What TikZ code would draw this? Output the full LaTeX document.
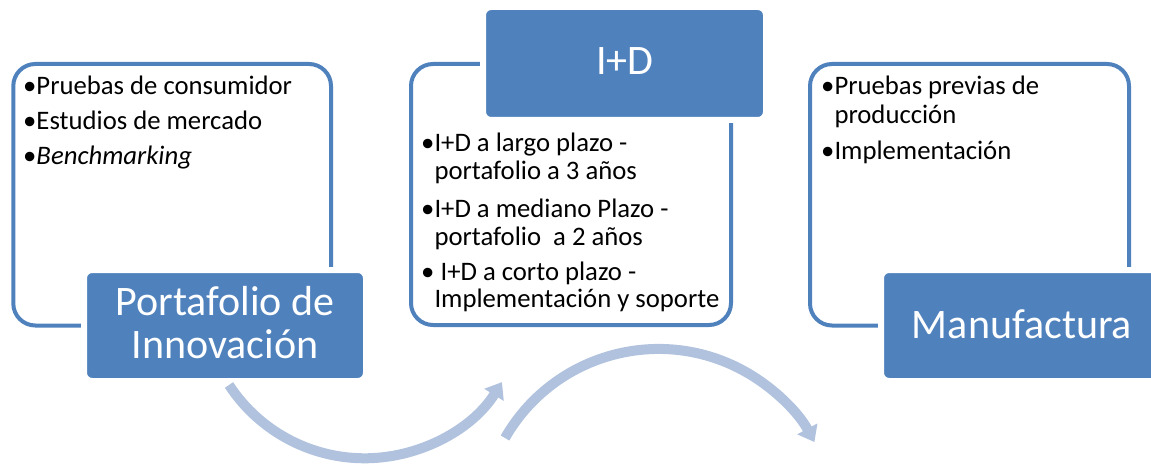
\documentclass[tikz,border=0pt]{standalone}
\usepackage{fontspec}
\setmainfont{Carlito}
\usetikzlibrary{arrows.meta}
\definecolor{boxblue}{HTML}{4F81BD}
\definecolor{arrowblue}{HTML}{B0C2DE}
\tikzset{
  frame/.style={draw=boxblue, line width=4pt, rounded corners=22pt},
  titlebox/.style={fill=boxblue, draw=white, line width=6pt, rounded corners=8pt,
    inner sep=0pt, outer sep=0pt},
  titletext/.style={anchor=base, inner sep=0pt, text=white, font=\fontsize{42}{44}\selectfont},
  item/.style={anchor=base west, inner sep=0pt, font=\fontsize{26.7}{30}\selectfont},
  flow/.style={draw=arrowblue, line width=10pt, -{Triangle[width=22pt,length=15pt]}},
}
\begin{document}
\begin{tikzpicture}[x=1pt,y=-1pt]
\useasboundingbox (0,0) rectangle (1151,465);
\clip (0,0) rectangle (1151,465);
% outline frames
\draw[frame] (13.3,64) rectangle (331,325.5);
\draw[frame] (411,64) rectangle (731,325);
\draw[frame] (810,64) rectangle (1129,325.5);
% title boxes
\node[titlebox, minimum width=282pt, minimum height=111pt] (pbox) at (225,325.5) {};
\node[titlebox, minimum width=283pt, minimum height=113pt] (dbox) at (624.5,63.5) {};
\node[titlebox, minimum width=282pt, minimum height=111pt] (mbox) at (1022,325.5) {};
\node[titletext] (pt1) at (225,315) {Portafolio de};
\node[titletext] (pt2) at (225,358) {Innovación};
\node[titletext] (dt) at (625,75) {I+D};
\node[titletext] (mt) at (1022,338) {Manufactura};
% left items
\node[item] (l1) at (23,95) {•Pruebas de consumidor};
\node[item] (l2) at (23,130) {•Estudios de mercado};
\node[item] (l3) at (23,165) {•\textit{Benchmarking}};
% center items
\node[item] (c1) at (421,152) {•I+D a largo plazo -};
\node[item] (c2) at (421,180) {\phantom{•}portafolio a 3 años};
\node[item] (c3) at (421,218) {•I+D a mediano Plazo -};
\node[item] (c4) at (421,245) {\phantom{•}portafolio\ \ a 2 años};
\node[item] (c5) at (421,280) {• I+D a corto plazo -};
\node[item] (c6) at (421,307) {\phantom{•}Implementación y soporte};
% right items
\node[item] (r1) at (821,95) {•Pruebas previas de};
\node[item] (r2) at (821,124) {\phantom{•}producción};
\node[item] (r3) at (821,160) {•Implementación};
% flow arrows
\coordinate (a1s) at (229,385);
\coordinate (a2s) at (505,438);
\draw[flow] (a1s) arc[start angle=146.8, end angle=32, radius=162];
\draw[flow] (a2s) arc[start angle=209.8, end angle=331.7, radius=177];
\end{tikzpicture}
\end{document}
